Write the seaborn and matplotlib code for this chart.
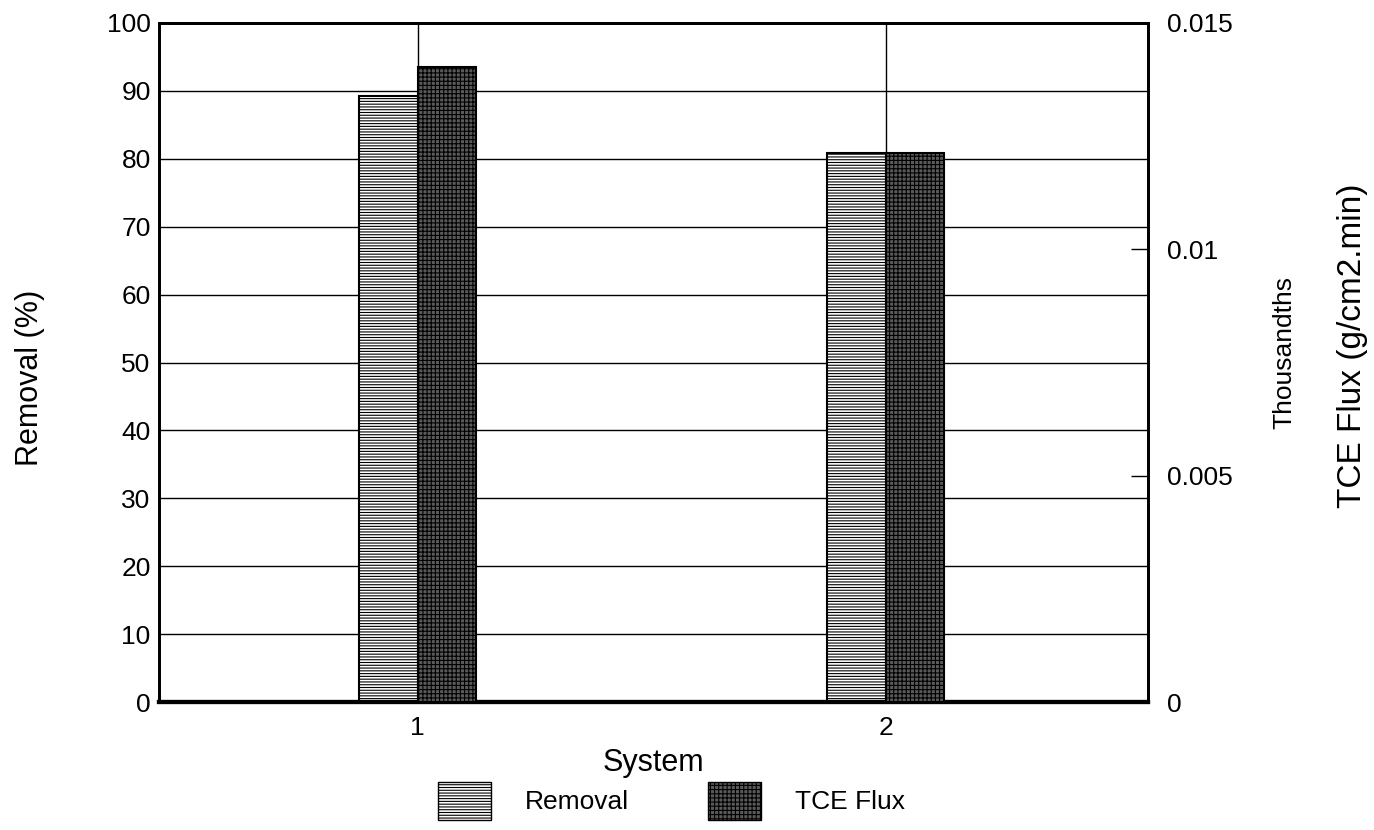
import matplotlib
matplotlib.use("Agg")
import matplotlib.pyplot as plt
import matplotlib.patches as mpatches
import numpy as np
import pandas as pd
import seaborn as sns

# Data
systems = ["1", "2"]
removal_pct = [89.2, 80.8]          # Removal (%)
tce_flux = [0.01403, 0.01213]       # TCE flux (g/cm2.min)
series = ["Removal", "TCE Flux"]
left_ticks = list(range(0, 101, 10))
right_ticks = [0, 0.005, 0.01, 0.015]
right_ticklabels = ["0", "0.005", "0.01", "0.015"]

sns.set_theme(style="white")
plt.rcParams["font.family"] = ["Liberation Sans", "DejaVu Sans"]
plt.rcParams["hatch.linewidth"] = 0.8
for key in ("text.color", "axes.labelcolor", "xtick.color", "ytick.color"):
    plt.rcParams[key] = "black"

df_removal = pd.DataFrame({"System": systems, "Series": "Removal", "Value": removal_pct})
df_flux = pd.DataFrame({"System": systems, "Series": "TCE Flux", "Value": tce_flux})

fig = plt.figure(figsize=(13.74, 8.30), dpi=100)
ax = fig.add_axes([0.1157, 0.1542, 0.7198, 0.8181])
ax2 = ax.twinx()

removal_face = "white"
flux_face = "#5a5a5a"

sns.barplot(data=df_removal, x="System", y="Value", hue="Series", hue_order=series,
            order=systems, palette={"Removal": removal_face, "TCE Flux": flux_face},
            width=0.25, dodge=True, ax=ax, edgecolor="black", linewidth=1.5,
            legend=False, zorder=3)
sns.barplot(data=df_flux, x="System", y="Value", hue="Series", hue_order=series,
            order=systems, palette={"Removal": removal_face, "TCE Flux": flux_face},
            width=0.25, dodge=True, ax=ax2, edgecolor="black", linewidth=1.5,
            legend=False, zorder=3)

for p in ax.patches:
    p.set_hatch("------")
for p in ax2.patches:
    p.set_hatch("++++")
    p.set_edgecolor("black")

# Left axis
ax.set_ylim(0, 100)
ax.set_yticks(left_ticks)
ax.set_yticklabels([str(t) for t in left_ticks], fontsize=19)
ax.set_xlim(-0.553, 1.56)
ax.set_xticks([0, 1])
ax.set_xticklabels(systems, fontsize=19)
ax.set_xlabel("System", fontsize=22, labelpad=6)
ax.set_ylabel("")
ax.tick_params(axis="y", which="both", length=0, pad=6)
ax.tick_params(axis="x", which="both", length=0, pad=10)
ax.grid(True, axis="both", color="black", linewidth=1.0)
ax.set_axisbelow(True)
fig.text(0.0215, 0.5446, "Removal (%)", rotation=90, fontsize=22, ha="center", va="center")

# Right axis
ax2.set_ylim(0, 0.015)
ax2.set_yticks(right_ticks)
ax2.set_yticklabels(right_ticklabels, fontsize=19)
ax2.tick_params(axis="y", direction="in", length=12, width=1, pad=14, colors="black")
ax2.set_ylabel("")
ax2.grid(False)
fig.text(0.935, 0.5747, "Thousandths", rotation=90, fontsize=19, ha="center", va="center")
fig.text(0.984, 0.5837, "TCE Flux (g/cm2.min)", rotation=90, fontsize=24, ha="center", va="center")

for a in (ax, ax2):
    for side, sp in a.spines.items():
        sp.set_color("black")
        sp.set_visible(True)
        sp.set_linewidth(2)
ax.spines["bottom"].set_linewidth(3)
ax2.spines["bottom"].set_linewidth(3)

# Legend
handles = [
    mpatches.Patch(facecolor=removal_face, edgecolor="black", hatch="------", label="Removal"),
    mpatches.Patch(facecolor=flux_face, edgecolor="black", hatch="++++", label="TCE Flux"),
]
fig.legend(handles=handles, loc="center", bbox_to_anchor=(0.4887, 0.035), ncol=2,
           frameon=False, fontsize=19, handlelength=2.0, handleheight=1.8,
           handletextpad=1.3, columnspacing=3.0)

fig.savefig("out.png", dpi=100)
